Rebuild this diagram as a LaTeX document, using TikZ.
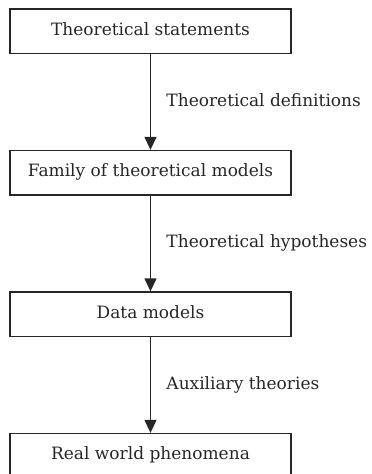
\documentclass[tikz,border=0pt]{standalone}
\usepackage{fontspec}
\setmainfont{DejaVu Serif}
\usetikzlibrary{positioning, arrows.meta}

\begin{document}
\begin{tikzpicture}[x=1pt, y=1pt, node distance={141.5pt}, line width=1.3pt,
    color={black!85},
    main/.style = {draw, rectangle, minimum width=281pt, minimum height=44.5pt, inner sep=0pt,
        text height=1.55ex, text depth=0pt, font=\fontsize{17}{21}\selectfont},
    lbl/.style = {right=12pt, text height=1.55ex, text depth=0pt, font=\fontsize{17}{21}\selectfont},
    >={Triangle[width=12pt, length=13pt]}]
    \useasboundingbox (0,0) rectangle (372,-474);

    \node[main] (stmt) at (150.5,-31.25) {Theoretical statements};
    \node[main] (fam) [below of=stmt] {Family of theoretical models};
    \node[main] (data) [below of=fam] {Data models};
    \node[main] (real) [below of=data] {Real world phenomena};

    \draw[->] (stmt) -- node[lbl] {Theoretical definitions} (fam);
    \draw[->] (fam) -- node[lbl] {Theoretical hypotheses} (data);
    \draw[->] (data) -- node[lbl] {Auxiliary theories} (real);
\end{tikzpicture}
\end{document}
